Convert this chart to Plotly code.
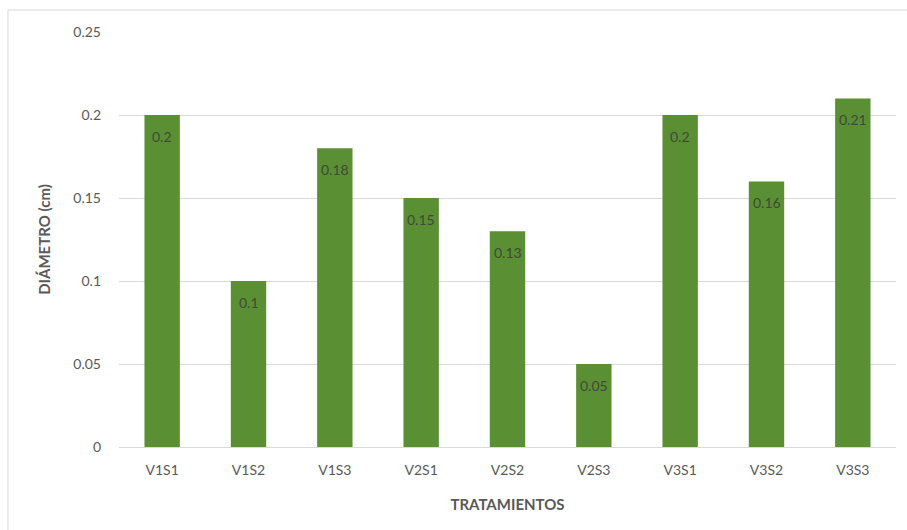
import plotly.graph_objects as go

# Tratamientos y diámetro medio (cm)
tratamientos = ["V1S1", "V1S2", "V1S3", "V2S1", "V2S2", "V2S3", "V3S1", "V3S2", "V3S3"]
diametro = [0.2, 0.1, 0.18, 0.15, 0.13, 0.05, 0.2, 0.16, 0.21]
y_ticks = [0, 0.05, 0.1, 0.15, 0.2, 0.25]

BAR = "#5B8F33"
GREY = "#595959"
FONT = "Lato, Open Sans, sans-serif"

fig = go.Figure(
    go.Bar(
        x=tratamientos,
        y=diametro,
        marker=dict(color=BAR, line=dict(width=0)),
        width=0.41,
        hoverinfo="x+y",
    )
)

# Data labels sitting inside each bar, just below its top
for t, v in zip(tratamientos, diametro):
    fig.add_annotation(
        x=t, y=v, text=f"{v:g}", showarrow=False,
        yanchor="middle", yshift=-21,
        font=dict(family=FONT, size=14, color="#3F4A38"),
    )

# Light frame around the chart area
fig.add_shape(
    type="rect", xref="paper", yref="paper",
    x0=-0.1429, x1=1.02, y0=-0.22, y1=1.053,
    line=dict(color="#D9D9D9", width=1), layer="below",
)

fig.update_layout(
    width=907, height=530,
    margin=dict(l=119, r=11, t=32, b=83),
    paper_bgcolor="white", plot_bgcolor="white",
    showlegend=False,
    font=dict(family=FONT, color=GREY, size=13),
    xaxis=dict(
        title=dict(text="<b>TRATAMIENTOS</b>", font=dict(size=15, color=GREY), standoff=22),
        showgrid=False, showline=True, linecolor="#D9D9D9", linewidth=1,
        ticks="", tickfont=dict(size=14, color=GREY), ticklabelstandoff=10,
    ),
    yaxis=dict(
        title=dict(text="<b>DIÁMETRO (cm)</b>", font=dict(size=15, color=GREY), standoff=19),
        range=[0, 0.25], tickvals=y_ticks,
        ticktext=[f"{v:g}" for v in y_ticks],
        showgrid=True, gridcolor="#D9D9D9", gridwidth=1,
        zeroline=False, showline=False, ticks="",
        tickfont=dict(size=14, color=GREY), ticklabelstandoff=17,
    ),
)

fig.write_html("out.html")
